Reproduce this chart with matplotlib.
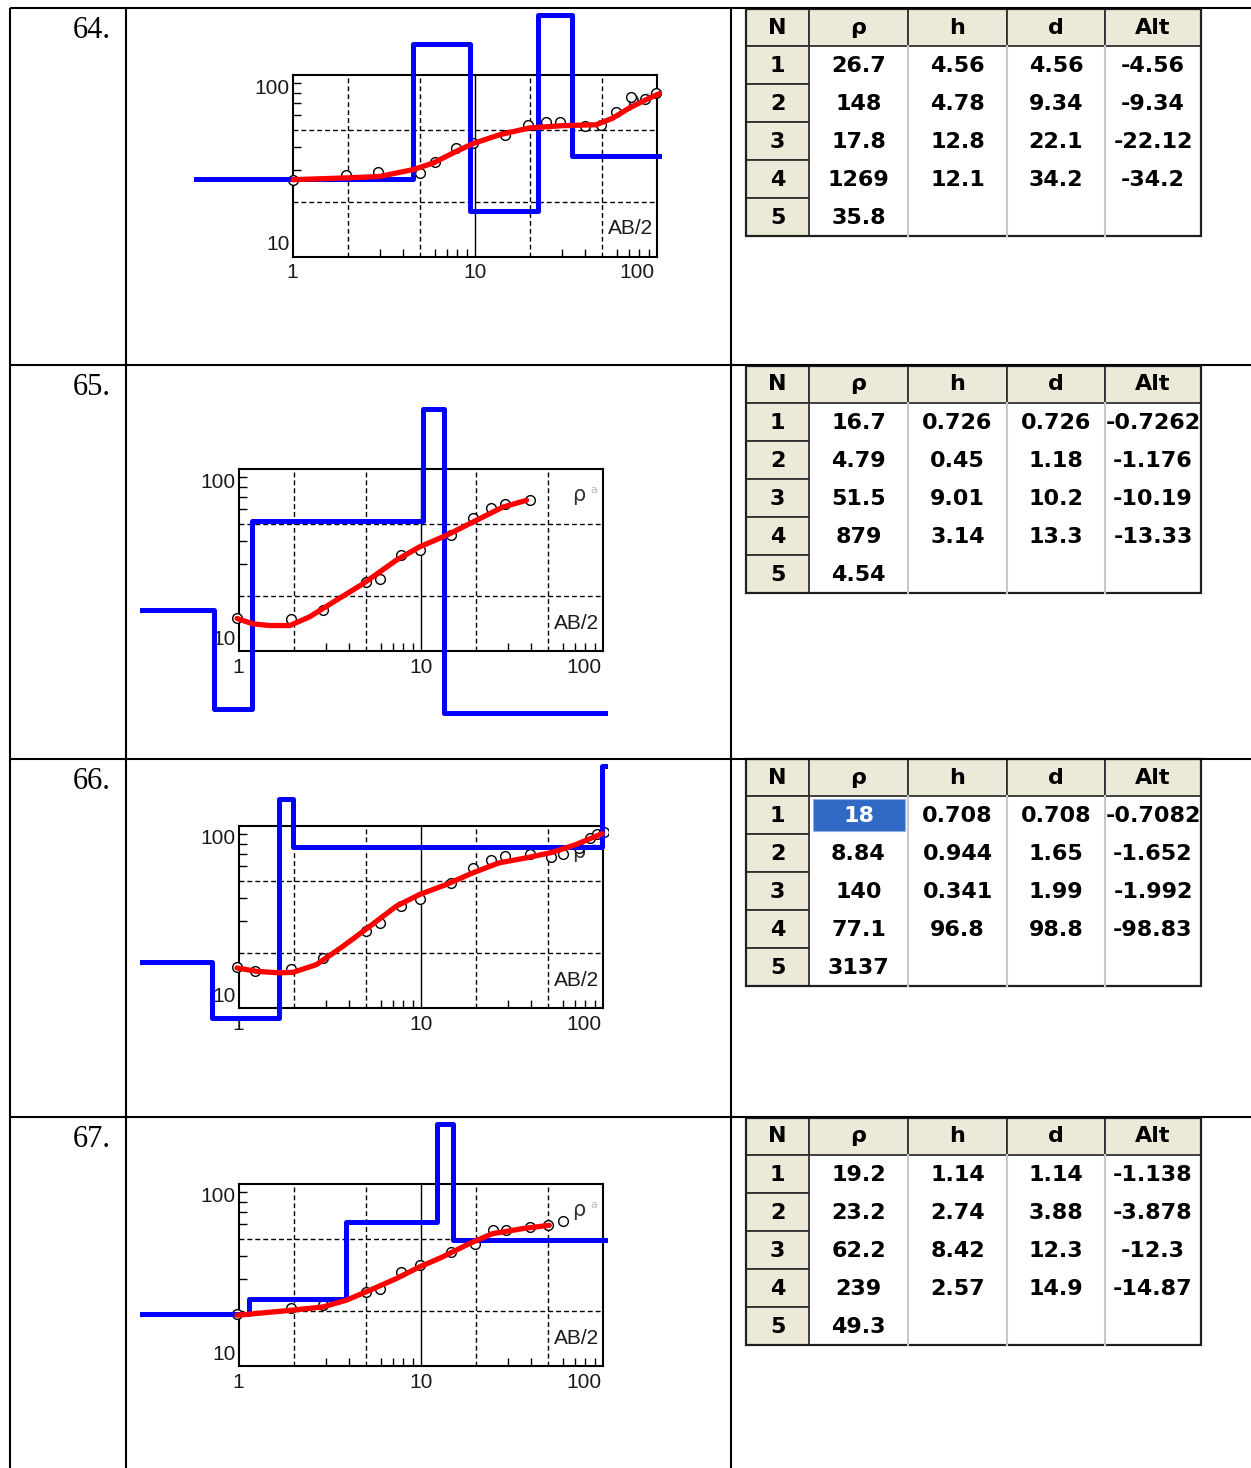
import matplotlib
matplotlib.use("Agg")
import matplotlib.pyplot as plt
from matplotlib.patches import Rectangle
from matplotlib.transforms import Bbox, TransformedBbox, offset_copy

W, H = 1251, 1468

# ---- data ----
numbers = ["64.", "65.", "66.", "67."]
headers = ["N", "ρ", "h", "d", "Alt"]

rho_64 = ["26.7", "148", "17.8", "1269", "35.8"]
h_64 = ["4.56", "4.78", "12.8", "12.1"]
d_64 = ["4.56", "9.34", "22.1", "34.2"]
alt_64 = ["-4.56", "-9.34", "-22.12", "-34.2"]

rho_65 = ["16.7", "4.79", "51.5", "879", "4.54"]
h_65 = ["0.726", "0.45", "9.01", "3.14"]
d_65 = ["0.726", "1.18", "10.2", "13.3"]
alt_65 = ["-0.7262", "-1.176", "-10.19", "-13.33"]

rho_66 = ["18", "8.84", "140", "77.1", "3137"]
h_66 = ["0.708", "0.944", "0.341", "96.8"]
d_66 = ["0.708", "1.65", "1.99", "98.8"]
alt_66 = ["-0.7082", "-1.652", "-1.992", "-98.83"]

rho_67 = ["19.2", "23.2", "62.2", "239", "49.3"]
h_67 = ["1.14", "2.74", "8.42", "2.57"]
d_67 = ["1.14", "3.88", "12.3", "14.9"]
alt_67 = ["-1.138", "-3.878", "-12.3", "-14.87"]

# observed apparent resistivity (circles)
ab_64 = [1.0, 1.96, 2.93, 4.97, 6.0, 7.9, 9.75, 14.6, 19.5, 24.7, 29.2, 40, 49.5, 59.8, 72.3, 85.6, 99]
ra_64 = [26.6, 28.3, 29.2, 29.0, 33.1, 39.7, 42.3, 47, 53.3, 55, 55, 52.2, 53.3, 62.4, 75.7, 74, 79.6]
ab_65 = [0.975, 1.94, 2.89, 5.0, 5.93, 7.8, 9.84, 14.7, 19.3, 24.3, 28.8, 39.5]
ra_65 = [15.1, 14.9, 16.7, 23.9, 25, 33.5, 36, 43.2, 54, 61.3, 64.5, 67.3]
ab_66 = [0.975, 1.22, 1.94, 2.89, 5.0, 5.93, 7.8, 9.84, 14.7, 19.3, 24.3, 28.8, 39.5, 52.1, 60, 74, 85, 92.5, 101]
ra_66 = [16.8, 15.9, 16.4, 18.8, 26.4, 29.3, 36.2, 39.7, 48.6, 58.8, 65.3, 68.1, 70.2, 67.6, 70.2, 75.7, 85.9, 90.8, 92.2]
ab_67 = [0.975, 1.94, 2.89, 5.0, 5.93, 7.8, 9.84, 14.7, 19.7, 24.9, 29.3, 39.5, 49.6, 60]
ra_67 = [19.4, 20.8, 21.5, 25.5, 26.6, 32.8, 35.7, 42.3, 47, 55.6, 55.6, 58, 59.3, 62.4]

# fitted curves (red)
fx_64 = [1, 1.96, 2.99, 4.56, 5.88, 7.9, 9.95, 13.7, 19.9, 30.4, 46.4, 57.2, 70.5, 87.1, 103]
fy_64 = [26.6, 27.2, 27.7, 30.2, 32.8, 38.1, 42.3, 47, 51.2, 52.7, 53.3, 58, 65.9, 73.2, 79]
fx_65 = [0.975, 1.19, 1.47, 1.9, 2.44, 3.42, 4.8, 7.3, 9.8, 13.8, 20.1, 28.2, 38]
fy_65 = [15.1, 14.1, 13.8, 13.8, 15.4, 19, 23.4, 31.5, 37.3, 43.2, 52.2, 61.8, 67.3]
fx_66 = [0.975, 1.25, 1.67, 1.98, 2.66, 3.72, 5.23, 7.3, 9.8, 13.7, 19.2, 26.8, 37.5, 52.5, 70.5, 99]
fy_66 = [16.6, 15.9, 15.6, 15.7, 17.3, 21.8, 28.1, 36.2, 42, 47.6, 55.2, 62.7, 66.7, 71.6, 78.9, 90.8]
fx_67 = [0.975, 1.9, 2.89, 3.89, 5.2, 7.3, 9.8, 13.1, 18.4, 24.6, 36.3, 50.7]
fy_67 = [19, 20.2, 21.1, 23, 26, 30.2, 35, 39.7, 47, 53.3, 56.9, 59.3]

x_grid = [2, 5, 20, 50]
y_grid = [20, 50]
x_minor = [3, 4, 6, 7, 8, 9, 30, 40, 60, 70, 80, 90]
y_minor = [30, 40, 60, 70, 80, 90]

BEIGE = "#ECE9D8"
SEL = "#316AC5"

fig = plt.figure(figsize=(W / 100, H / 100), dpi=100)

# full-page axes in pixel coordinates for the document table
bg = fig.add_axes([0, 0, 1, 1])
bg.set_xlim(0, W)
bg.set_ylim(H, 0)
bg.axis("off")

row_tops = [8, 365, 759, 1117]
for y in row_tops:
    bg.plot([10, W], [y, y], color="black", lw=1.5, solid_capstyle="butt")
for x in [10, 126, 731]:
    bg.plot([x, x], [8, H], color="black", lw=1.5, solid_capstyle="butt")
for top, num in zip(row_tops, numbers):
    bg.text(111, top + 30, num, ha="right", va="baseline",
            family="Liberation Serif", fontsize=22, color="black")

cols = [746, 809, 908, 1007, 1105, 1201]


def draw_table(top, rho, h, d, alt, selected=False):
    hh, rh = 37, 38
    bottom = top + hh + 5 * rh
    bg.add_patch(Rectangle((cols[1], top + hh), cols[-1] - cols[1], 5 * rh,
                           fc="white", ec="none"))
    for x in cols[2:-1]:
        bg.plot([x, x], [top + hh, bottom], color="#c8c8c8", lw=1.5)
    for j, name in enumerate(headers):
        bg.add_patch(Rectangle((cols[j], top), cols[j + 1] - cols[j], hh,
                               fc=BEIGE, ec="#303030", lw=1.3))
        bg.text((cols[j] + cols[j + 1]) / 2, top + hh / 2, name, ha="center",
                va="center", family="DejaVu Sans", weight="bold", fontsize=16)
    col_vals = [rho, h, d, alt]
    for i in range(5):
        y = top + hh + i * rh
        bg.add_patch(Rectangle((cols[0], y), cols[1] - cols[0], rh,
                               fc=BEIGE, ec="#303030", lw=1.3))
        bg.text((cols[0] + cols[1]) / 2, y + rh / 2 + 1, str(i + 1), ha="center",
                va="center", family="DejaVu Sans", weight="bold", fontsize=16)
        for j, vals in enumerate(col_vals):
            if i >= len(vals):
                continue
            color = "black"
            if selected and i == 0 and j == 0:
                bg.add_patch(Rectangle((cols[1] + 4, y + 3), cols[2] - cols[1] - 7, rh - 6,
                                       fc=SEL, ec="#8fb0e8", lw=0.8))
                color = "white"
            bg.text((cols[j + 1] + cols[j + 2]) / 2, y + rh / 2 + 1, vals[i],
                    ha="center", va="center", family="DejaVu Sans",
                    weight="bold", fontsize=16, color=color)
    bg.add_patch(Rectangle((cols[0], top), cols[-1] - cols[0], bottom - top,
                           fc="none", ec="#202020", lw=1.6))


draw_table(9, rho_64, h_64, d_64, alt_64)
draw_table(366, rho_65, h_65, d_65, alt_65)
draw_table(759, rho_66, h_66, d_66, alt_66, selected=True)
draw_table(1118, rho_67, h_67, d_67, alt_67)

FW, FH = 364, 182
PAD_TOP = 63  # picture edge above the frame, px


def draw_chart(left, top, ab, ra, fx, fy, rho, d):
    ax = fig.add_axes([left / W, 1 - (top + FH) / H, FW / W, FH / H])
    ax.set_xscale("log")
    ax.set_yscale("log")
    ax.set_xlim(1, 100)
    ax.set_ylim(10, 100)
    ax.set_xticks([])
    ax.set_yticks([])
    ax.set_xticks(x_minor, minor=True)
    ax.set_yticks(y_minor, minor=True)
    ax.set_xticklabels([], minor=True)
    ax.set_yticklabels([], minor=True)
    ax.tick_params(which="minor", direction="in", length=6, width=1, color="black",
                   top=False, right=False)
    for s in ax.spines.values():
        s.set_linewidth(1.5)
        s.set_color("black")

    for gx in x_grid:
        ax.axvline(gx, color="black", lw=1, ls=(0, (3.5, 2.2)), zorder=1)
    for gy in y_grid:
        ax.axhline(gy, color="black", lw=1, ls=(0, (3.5, 2.2)), zorder=1)
    ax.axvline(10, color="black", lw=1, zorder=1)

    # axis labels placed like the original program
    tc = "#1a1a1a"
    fnt = dict(family="Liberation Sans", fontsize=15, color=tc)
    ax.text(1, 100, "100", ha="right", va="center",
            transform=offset_copy(ax.transData, fig=fig, x=-3, y=-13, units="dots"), **fnt)
    ax.text(1, 10, "10", ha="right", va="center",
            transform=offset_copy(ax.transData, fig=fig, x=-3, y=12, units="dots"), **fnt)
    for xv, lab, ha, dx in [(1, "1", "center", -1), (10, "10", "center", 0), (100, "100", "right", -2)]:
        ax.text(xv, 10, lab, ha=ha, va="center",
                transform=offset_copy(ax.transData, fig=fig, x=dx, y=-16, units="dots"), **fnt)
    ax.text(1 - 4 / FW, 28 / FH, "AB/2", ha="right", va="center",
            transform=ax.transAxes, zorder=2, **fnt)
    ax.text(1 - 24 / FW, 1 - 26 / FH, "ρ", ha="center", va="center",
            transform=ax.transAxes, zorder=2, family="DejaVu Sans", fontsize=15, color="#333333")
    ax.text(1 - 9 / FW, 1 - 21 / FH, "a", ha="center", va="center",
            transform=ax.transAxes, zorder=2, family="DejaVu Sans", fontsize=8, color="#b8b8b8")

    rho_v = [float(v) for v in rho]
    d_v = [float(v) for v in d]
    # the program pins layers that run off the picture to its top edge
    y_pin = 10 ** (1 + (FH + PAD_TOP - 3) / FH)
    sx = [0.1] + d_v + [1000]
    sy = [min(v, y_pin) for v in rho_v + [rho_v[-1]]]

    arts = []
    arts += ax.plot(ab, ra, "o", ms=7, mfc="white", mec="black", mew=1, zorder=3)
    arts += ax.plot(sx, sy, drawstyle="steps-post", color="#0000FF", lw=3.6,
                    solid_joinstyle="round", zorder=4)
    arts += ax.plot(fx, fy, color="#FF0000", lw=3.8, solid_capstyle="round", zorder=5)

    # the graph is a picture: marks leave the frame but stop at the picture edge
    box = TransformedBbox(Bbox.from_extents((left - 99) / W, 1 - (top + FH + 75) / H,
                                            (left + 369) / W, 1 - (top - PAD_TOP) / H),
                          fig.transFigure)
    for a in arts:
        a.set_clip_path(None)
        a.set_clip_box(box)


draw_chart(293, 75, ab_64, ra_64, fx_64, fy_64, rho_64, d_64)
draw_chart(239, 469, ab_65, ra_65, fx_65, fy_65, rho_65, d_65)
draw_chart(239, 826, ab_66, ra_66, fx_66, fy_66, rho_66, d_66)
draw_chart(239, 1184, ab_67, ra_67, fx_67, fy_67, rho_67, d_67)

fig.savefig("out.png", dpi=100)
